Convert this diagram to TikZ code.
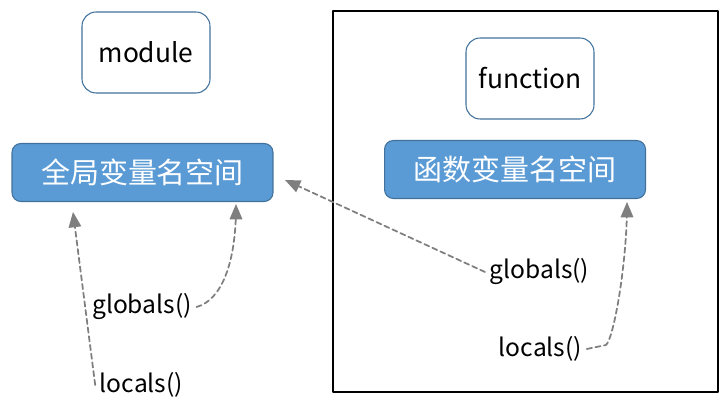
\documentclass[tikz,border=0pt]{standalone}
\usepackage{fontspec}
\setmainfont{Noto Sans CJK SC}
\usetikzlibrary{arrows}
\usetikzlibrary{positioning}
\definecolor{nsblue}{HTML}{5B9BD5}
\definecolor{nsline}{HTML}{41719C}
\definecolor{callgray}{HTML}{7F7F7F}
\tikzset{
  scopebox/.style={draw=nsline,line width=0.6pt,fill=white,rounded corners=8pt,
    minimum width=2.56cm,minimum height=1.62cm,inner sep=0pt,
    font=\fontsize{15pt}{18pt}\selectfont},
  nsbox/.style={draw=nsline,line width=0.6pt,fill=nsblue,rounded corners=5pt,
    minimum width=5.22cm,minimum height=1.16cm,inner sep=0pt,text=white,
    font=\fontsize{16.5pt}{19pt}\selectfont},
  calllabel/.style={inner sep=2.5pt,font=\fontsize{14pt}{17pt}\selectfont},
  callarrow/.style={->,draw=callgray,line width=1pt,
    dash pattern=on 3pt off 2pt}
}
\begin{document}
\begin{tikzpicture}[line cap=round,line join=round,>=triangle 45,x=0.02cm,y=-0.02cm]
\useasboundingbox (0,0) rectangle (726,401);
\draw [line width=1.4pt] (333,11) rectangle (718,392);
\node [scopebox] (module) at (146,52.5) {module};
\node [scopebox] (function) at (530,78.5) {function};
\node [nsbox] (globalns) at (142.5,172.5) {全局变量名空间};
\node [nsbox] (localns) at (515,169.5) {函数变量名空间};
\node [calllabel] (gglobals) at (142,307) {globals()};
\node [calllabel] (glocals) at (141.5,385) {locals()};
\node [calllabel] (fglobals) at (539.5,272) {globals()};
\node [calllabel] (flocals) at (540.5,349) {locals()};
\coordinate (gtipa) at (73,212);
\coordinate (gtipb) at (236,204);
\coordinate (gtipc) at (285,180);
\coordinate (ftip) at (627,202);
\draw [callarrow] (glocals.west) -- (gtipa);
\draw [callarrow] (gglobals.east) .. controls (222,300) and (236,262) .. (gtipb);
\draw [callarrow] (fglobals.west) -- (gtipc);
\draw [callarrow] (flocals.east) -- (606,345) .. controls (614,338) and (627,262) .. (ftip);
\end{tikzpicture}
\end{document}
